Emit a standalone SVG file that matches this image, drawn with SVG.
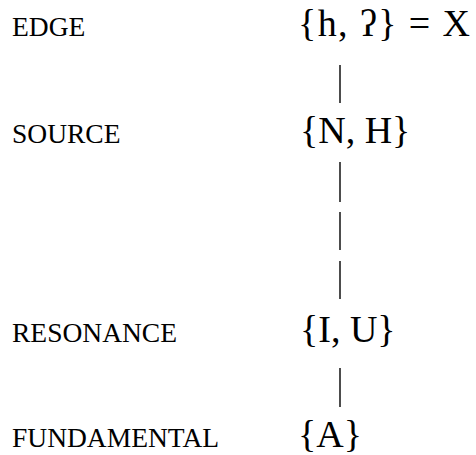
<svg xmlns="http://www.w3.org/2000/svg" width="476" height="455" viewBox="0 0 476 455">
<style>
.lbl{font-family:"Liberation Serif","Times New Roman",serif;font-size:27.5px;fill:#000}
.set{font-family:"Liberation Serif","DejaVu Serif","Times New Roman",serif;font-size:38px;fill:#000}
.bar{stroke:#000;stroke-width:1.4;fill:none}
</style>
<rect width="476" height="455" fill="#fff"/>
<g id="edge"><text class="lbl" x="12" y="36">EDGE</text><text class="set" x="298" y="36" textLength="172" lengthAdjust="spacing">{h, ʔ} = X</text></g>
<g id="source"><text class="lbl" x="12" y="143">SOURCE</text><text class="set" x="300" y="143">{N, H}</text></g>
<g id="resonance"><text class="lbl" x="12" y="342">RESONANCE</text><text class="set" x="300" y="342">{I, U}</text></g>
<g id="fundamental"><text class="lbl" x="12" y="447">FUNDAMENTAL</text><text class="set" x="298" y="447">{A}</text></g>
<g id="connectors">
<line class="bar" x1="340" y1="65" x2="340" y2="103"/>
<line class="bar" x1="340" y1="162" x2="340" y2="202"/>
<line class="bar" x1="340" y1="212" x2="340" y2="250"/>
<line class="bar" x1="340" y1="261" x2="340" y2="299"/>
<line class="bar" x1="340" y1="368" x2="340" y2="407"/>
</g>
</svg>
